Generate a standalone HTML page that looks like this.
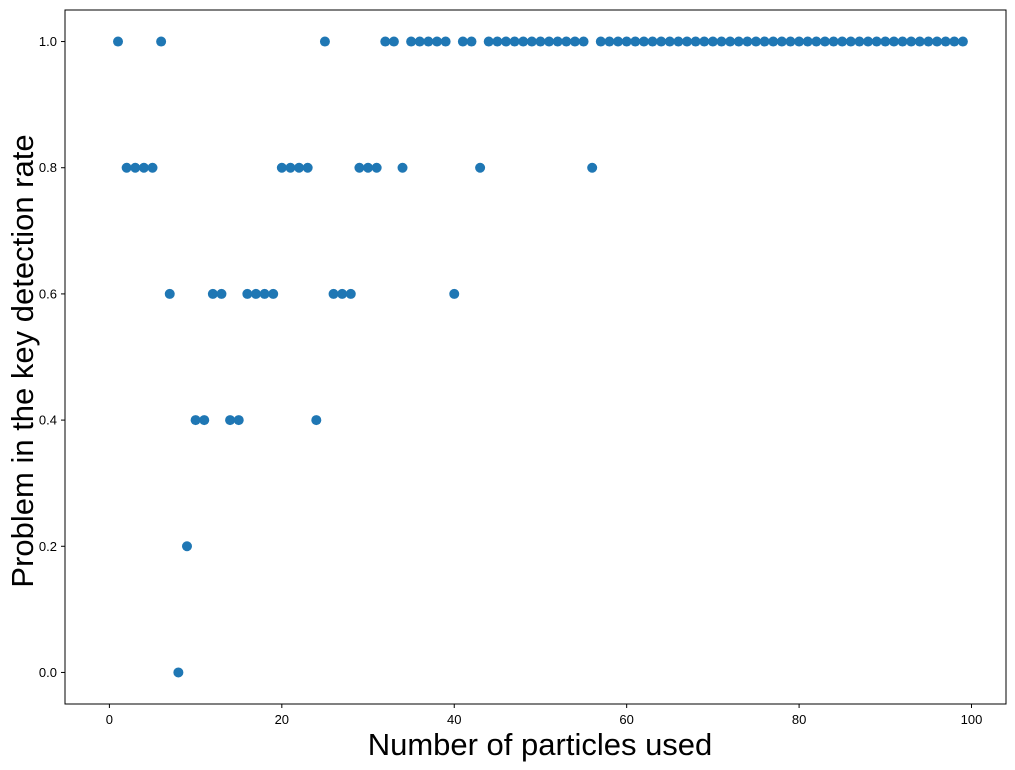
<!DOCTYPE html>
<html><head><meta charset="utf-8"><style>
body{margin:0;background:#fff;}
svg{display:block;font-family:"Liberation Sans","DejaVu Sans",sans-serif;}
</style></head><body>
<svg id="chart" width="1015" height="770" viewBox="0 0 1015 770">
<rect x="65" y="10" width="941" height="694" fill="#fff" stroke="#000" stroke-width="1"/>
<g id="xt"></g><g id="yt"></g><g id="pts"></g>
<text x="540" y="755" font-size="31" text-anchor="middle">Number of particles used</text>
<text transform="translate(33,361) rotate(-90)" font-size="31" text-anchor="middle">Problem in the key detection rate</text>
</svg>
<script>
const xTicks=[0,20,40,60,80,100];
const yTicks=[0.0,0.2,0.4,0.6,0.8,1.0];
const xVals=[];for(let i=1;i<=99;i++)xVals.push(i);
const yVals=[1,.8,.8,.8,.8,1,.6,0,.2,.4,.4,.6,.6,.4,.4,.6,.6,.6,.6,.8,.8,.8,.8,.4,1,.6,.6,.6,.8,.8,.8,1,1,.8,1,1,1,1,1,.6,1,1,.8,1,1,1,1,1,1,1,1,1,1,1,1,.8,
1,1,1,1,1,1,1,1,1,1,1,1,1,1,1,1,1,1,1,1,1,1,1,1,1,1,1,1,1,1,1,1,1,1,1,1,1,1,1,1,1,1,1];
const X0=65,X1=1006,Y0=704,Y1=10,xmin=-5.15,xmax=104.0,ymin=-0.05,ymax=1.05;
const sx=v=>X0+(v-xmin)/(xmax-xmin)*(X1-X0);
const sy=v=>Y0-(v-ymin)/(ymax-ymin)*(Y0-Y1);
const NS="http://www.w3.org/2000/svg";
function mk(t,a,p){const e=document.createElementNS(NS,t);for(const k in a)e.setAttribute(k,a[k]);p.appendChild(e);return e;}
const xt=document.getElementById('xt'),yt=document.getElementById('yt'),pts=document.getElementById('pts');
xTicks.forEach(v=>{const x=sx(v);
const l=mk('line',{x1:x,x2:x,y1:704,y2:708,stroke:'#000'},xt);


const t=mk('text',{x:x,y:724,'font-size':13,'text-anchor':'middle'},xt);t.textContent=v;

});
yTicks.forEach(v=>{const y=sy(v);
const l=mk('line',{x1:61,x2:65,y1:y,y2:y,stroke:'#000'},yt);


const t=mk('text',{x:57,y:y+4.5,'font-size':13,'text-anchor':'end'},yt);t.textContent=v.toFixed(1);

});
xVals.forEach((v,i)=>{const c=mk('circle',{cx:sx(v),cy:sy(yVals[i]),r:5,fill:'#1f77b4'},pts);

});
</script>
</body></html>
